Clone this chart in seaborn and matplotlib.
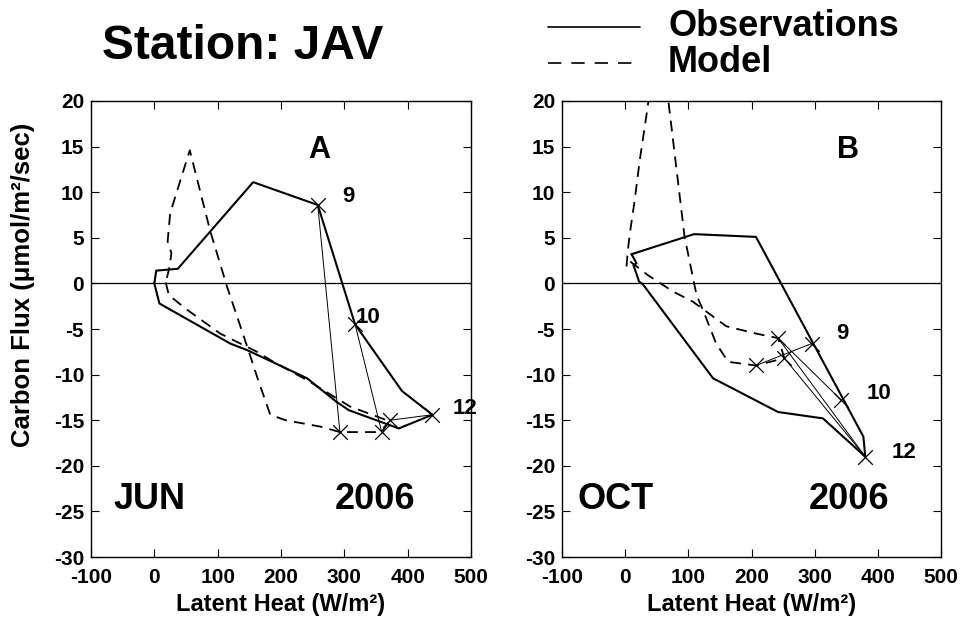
import matplotlib
matplotlib.use("Agg")
import matplotlib.pyplot as plt
from matplotlib.lines import Line2D
import pandas as pd
import seaborn as sns

# ---------------- June 2006 ----------------
jun_obs_lh = [0, 8, 120, 146, 186, 241, 288, 307, 386, 439, 391, 317, 258, 156, 37, 3, 0]
jun_obs_c = [0, -2.2, -6.6, -7.3, -8.6, -10.4, -13.0, -13.9, -15.9, -14.4, -11.8, -4.5, 8.6, 11.1, 1.6, 1.4, 0]

jun_mod_lh = [18, 23, 52, 104, 162, 188, 241, 309, 367, 372, 359, 293, 262, 207, 183,
              162, 146, 115, 88, 56, 38, 25, 21, 27, 23, 18]
jun_mod_c = [0.1, -1.3, -2.9, -5.5, -7.5, -8.6, -10.6, -13.5, -15.0, -15.0, -16.3, -16.3, -15.7, -15.0, -14.4,
             -10.2, -6.8, -0.4, 5.8, 14.6, 10.6, 7.7, 4.6, 3.3, 1.5, 0.1]

# hourly points (local hour 9, 10, 12)
hours = ["9", "10", "12"]
jun_obs_hr_lh = [258, 317, 439]
jun_obs_hr_c = [8.6, -4.5, -14.4]
jun_mod_hr_lh = [293, 359, 372]
jun_mod_hr_c = [-16.3, -16.3, -15.0]
jun_hr_label_lh = [307, 337, 490]
jun_hr_label_c = [9.5, -3.7, -13.7]
# links between observed and modelled hourly points: (obs index, model index)
jun_links = [(0, 0), (1, 1), (2, 2)]

# ---------------- October 2006 ----------------
oct_obs_lh = [10, 109, 207, 377, 380, 313, 242, 139, 28, 22, 13, 18, 10]
oct_obs_c = [3.2, 5.4, 5.1, -16.8, -19.0, -14.8, -14.1, -10.4, -0.1, 0.2, 2.0, 2.2, 3.2]

oct_mod_lh = [8, 36, 76, 107, 160, 207, 242, 252, 207, 163, 144, 123, 113, 94, 68.5,
              54, 34, 23, 15, 7.4, 4, 2, 8]
oct_mod_c = [2.4, 0.9, -0.9, -2.0, -4.7, -5.5, -6.0, -8.2, -9.0, -8.6, -6.6, -2.9, -1.3, 5.1, 19.9,
             28.5, 18.6, 13.5, 9.1, 5.5, 3.5, 1.8, 2.4]

oct_obs_hr_lh = [295, 342, 380]
oct_obs_hr_c = [-6.6, -12.8, -19.0]
oct_mod_hr_lh = [207, 242, 252]
oct_mod_hr_c = [-9.0, -6.0, -8.2]
oct_hr_label_lh = [344, 402, 442]
oct_hr_label_c = [-5.5, -12.1, -18.5]
oct_links = [(0, 0), (1, 1), (2, 1), (2, 2)]

x_ticks = [-100, 0, 100, 200, 300, 400, 500]
y_ticks = [-30, -25, -20, -15, -10, -5, 0, 5, 10, 15, 20]

sns.set_style("ticks")
plt.rcParams["font.family"] = ["Liberation Sans", "DejaVu Sans"]
plt.rcParams["font.weight"] = "bold"
plt.rcParams["axes.labelweight"] = "bold"
plt.rcParams["axes.linewidth"] = 1.0
plt.rcParams["axes.edgecolor"] = "black"
plt.rcParams["axes.unicode_minus"] = False
for key in ("text.color", "axes.labelcolor", "xtick.color", "ytick.color"):
    plt.rcParams[key] = "black"

fig = plt.figure(figsize=(9.67, 6.23), dpi=100)
axA = fig.add_axes([0.0941, 0.1059, 0.393, 0.732])
axB = fig.add_axes([0.5812, 0.1059, 0.392, 0.732])


def draw_panel(ax, obs_lh, obs_c, mod_lh, mod_c, ob_hlh, ob_hc, md_hlh, md_hc,
               links, lab_lh, lab_c, letter, letter_x, month, month_x, year_x):
    ax.axhline(0, color="black", lw=0.9, zorder=1)
    obs = pd.DataFrame({"lh": obs_lh, "c": obs_c})
    mod = pd.DataFrame({"lh": mod_lh, "c": mod_c})
    sns.lineplot(data=obs, x="lh", y="c", sort=False, estimator=None, ax=ax,
                 color="black", lw=1.5)
    sns.lineplot(data=mod, x="lh", y="c", sort=False, estimator=None, ax=ax,
                 color="black", lw=1.3, linestyle=(0, (6, 4)))
    # thin links joining observed and modelled hourly values
    seg_lh, seg_c, seg_id = [], [], []
    for k, (i, j) in enumerate(links):
        seg_lh += [ob_hlh[i], md_hlh[j]]
        seg_c += [ob_hc[i], md_hc[j]]
        seg_id += [k, k]
    seg = pd.DataFrame({"lh": seg_lh, "c": seg_c, "seg": seg_id})
    sns.lineplot(data=seg, x="lh", y="c", units="seg", sort=False, estimator=None,
                 ax=ax, color="black", lw=0.7)
    pts = pd.DataFrame({"lh": list(ob_hlh) + list(md_hlh), "c": list(ob_hc) + list(md_hc)})
    sns.scatterplot(data=pts, x="lh", y="c", marker="x", s=110, color="black",
                    linewidth=0.9, ax=ax, zorder=5)
    for h, x, y in zip(hours, lab_lh, lab_c):
        ax.text(x, y, h, fontsize=16, fontweight="bold", ha="center", va="center")
    ax.text(letter_x, 14.6, letter, fontsize=22, fontweight="bold",
            ha="center", va="center")
    ax.text(month_x, -23.7, month, fontsize=26, fontweight="bold",
            ha="center", va="center")
    ax.text(year_x, -23.7, "2006", fontsize=26, fontweight="bold",
            ha="center", va="center")

    ax.set_xlim(-100, 500)
    ax.set_ylim(-30, 20)
    ax.set_xticks(x_ticks)
    ax.set_yticks(y_ticks)
    ax.tick_params(axis="both", direction="in", top=True, right=True, length=5.5,
                   width=0.8, labelsize=15)
    ax.tick_params(axis="x", pad=8)
    ax.tick_params(axis="y", pad=5)
    for lab in ax.get_xticklabels() + ax.get_yticklabels():
        lab.set_fontweight("bold")
    ax.set_xlabel("Latent Heat (W/m²)", fontsize=17, labelpad=4)
    ax.set_ylabel("")


draw_panel(axA, jun_obs_lh, jun_obs_c, jun_mod_lh, jun_mod_c,
           jun_obs_hr_lh, jun_obs_hr_c, jun_mod_hr_lh, jun_mod_hr_c, jun_links,
           jun_hr_label_lh, jun_hr_label_c, "A", 260, "JUN", -7, 348)
draw_panel(axB, oct_obs_lh, oct_obs_c, oct_mod_lh, oct_mod_c,
           oct_obs_hr_lh, oct_obs_hr_c, oct_mod_hr_lh, oct_mod_hr_c, oct_links,
           oct_hr_label_lh, oct_hr_label_c, "B", 352, "OCT", -16, 355)

fig.text(0.024, 0.542, "Carbon Flux (μmol/m²/sec)", rotation=90, fontsize=18.5,
         fontweight="bold", ha="center", va="center")

fig.text(0.251, 0.9246, "Station: JAV", fontsize=34.5, fontweight="bold",
         ha="center", va="center")

# key
fig.add_artist(Line2D([548 / 967, 640 / 967], [1 - 27 / 623] * 2, color="black", lw=1.2))
fig.add_artist(Line2D([548 / 967, 640 / 967], [1 - 63 / 623] * 2, color="black", lw=1.2,
                      linestyle=(0, (8, 6))))
fig.text(668 / 967, 1 - 27 / 623, "Observations", fontsize=26, fontweight="bold",
         ha="left", va="center")
fig.text(668 / 967, 1 - 63 / 623, "Model", fontsize=26, fontweight="bold",
         ha="left", va="center")

fig.savefig("out.png", dpi=100)
